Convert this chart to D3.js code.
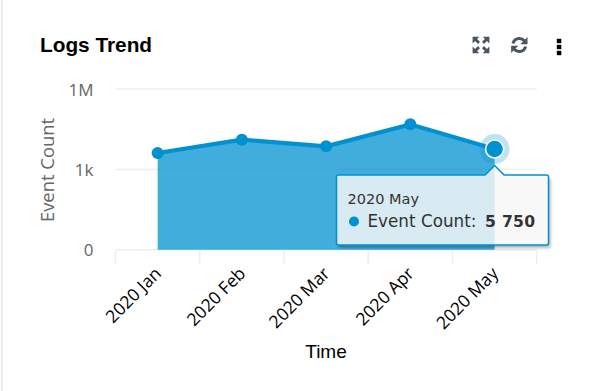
<!DOCTYPE html>
<html><head><meta charset="utf-8">
<script src="https://cdn.jsdelivr.net/npm/d3@7/dist/d3.min.js"></script>
<style>html,body{margin:0;padding:0;background:#fff}svg{display:block}</style>
</head><body><div id="chart"></div>
<script>
const categories = ["2020 Jan","2020 Feb","2020 Mar","2020 Apr","2020 May"];
const eventCounts = [4100, 12900, 7300, 48000, 5750];
const yTicks = [0, 1000, 1000000];
const yTickLabels = ["0","1k","1M"];
const title = "Logs Trend", xTitle = "Time", yTitle = "Event Count";
const tipTitle = "2020 May", tipLabel = "Event Count: ", tipValue = "5 750";

const W = 613, H = 391, BLUE = "#0091d0";
const svg = d3.select("#chart").append("svg").attr("width",W).attr("height",H);
const OS = "'Open Sans',sans-serif", DV = "'DejaVu Sans',sans-serif", LS = "'Liberation Sans',Arial,sans-serif";

svg.append("rect").attr("x",1).attr("y",0).attr("width",1.5).attr("height",H).attr("fill","#e8e8e8");

const x = d3.scaleBand().domain(categories).range([115.5,536.7]);
const y = d3.scaleSymlog().constant(1).domain([0,1e6]).range([249.8,89]);
const cx = d => x(d)+x.bandwidth()/2;

// grid
svg.append("g").selectAll("line").data(yTicks.slice(1)).join("line")
  .attr("x1",116).attr("x2",536.7).attr("y1",d=>y(d)).attr("y2",d=>y(d))
  .attr("stroke","#eeeeee").attr("stroke-width",1.5);

// x axis
const gx = svg.append("g").attr("transform","translate(0,249.8)");
gx.append("line").attr("x1",115.5).attr("x2",536.7).attr("stroke","#eeeeee").attr("stroke-width",1.5);
const edges = categories.map(c=>x(c)).concat([x.range()[1]]);
gx.selectAll("line.t").data(edges).join("line").attr("class","t")
  .attr("x1",d=>d).attr("x2",d=>d).attr("y1",0).attr("y2",14)
  .attr("stroke","#eeeeee").attr("stroke-width",1.5);
gx.selectAll("text.l").data(categories).join("text").attr("class","l")
  .attr("transform",d=>`translate(${cx(d)-4},16) rotate(-45)`)
  .attr("text-anchor","end").attr("dy","0.71em")
  .attr("font-family",OS).attr("font-size",17.5).attr("fill","#000").text(d=>d);

// y labels
svg.append("g").selectAll("text").data(yTicks).join("text")
  .attr("x",93.5).attr("y",d=>y(d)+0.5).attr("dy","0.36em").attr("text-anchor","end")
  .attr("font-family",OS).attr("font-size",17).attr("fill","#666").text((d,i)=>yTickLabels[i]);

// area and line
const area = d3.area().x((d,i)=>cx(categories[i])).y0(y(0)).y1(d=>y(d));
const line = d3.line().x((d,i)=>cx(categories[i])).y(d=>y(d));
svg.append("path").attr("d",area(eventCounts)).attr("fill",BLUE).attr("fill-opacity",0.75);
svg.append("path").attr("d",line(eventCounts)).attr("fill","none").attr("stroke",BLUE).attr("stroke-width",4.2);
svg.append("g").selectAll("circle").data(eventCounts.slice(0,4)).join("circle")
  .attr("cx",(d,i)=>cx(categories[i])).attr("cy",d=>y(d)).attr("r",6).attr("fill",BLUE);

// active point
const last = eventCounts.length-1, lx = cx(categories[last]), ly = y(eventCounts[last]);
svg.append("circle").attr("cx",lx).attr("cy",ly).attr("r",15).attr("fill",BLUE).attr("fill-opacity",0.25);
svg.append("circle").attr("cx",lx).attr("cy",ly).attr("r",9).attr("fill",BLUE).attr("stroke","#fff").attr("stroke-width",1.5);

// tooltip
const tx0=336.5, tx1=548.5, ty0=175, ty1=245, tipW=9.5;
const tipPath = `M${tx0+2},${ty0}H${lx-tipW}L${lx},${ty0-9.5}L${lx+tipW},${ty0}H${tx1-2}Q${tx1},${ty0} ${tx1},${ty0+2}V${ty1-2}Q${tx1},${ty1} ${tx1-2},${ty1}H${tx0+2}Q${tx0},${ty1} ${tx0},${ty1-2}V${ty0+2}Q${tx0},${ty0} ${tx0+2},${ty0}Z`;
const defs = svg.append("defs");
const f = defs.append("filter").attr("id","sh").attr("x","-10%").attr("y","-10%").attr("width","125%").attr("height","130%");
f.append("feGaussianBlur").attr("in","SourceAlpha").attr("stdDeviation",1.5).attr("result","b");
f.append("feOffset").attr("in","b").attr("dx",1.5).attr("dy",2.5).attr("result","o");
f.append("feFlood").attr("flood-color","#000").attr("flood-opacity",0.3).attr("result","c");
f.append("feComposite").attr("in","c").attr("in2","o").attr("operator","in").attr("result","s");
f.append("feComposite").attr("in","s").attr("in2","SourceAlpha").attr("operator","out");
svg.append("path").attr("d",tipPath).attr("fill","#000").attr("filter","url(#sh)");
svg.append("path").attr("d",tipPath).attr("fill","#f7f7f7").attr("fill-opacity",0.83)
  .attr("stroke",BLUE).attr("stroke-width",1.5);
svg.append("text").attr("x",347.5).attr("y",204).attr("font-family",DV).attr("font-size",14.5).attr("fill","#333").text(tipTitle);
svg.append("circle").attr("cx",354).attr("cy",221.5).attr("r",5).attr("fill",BLUE);
const t = svg.append("text").attr("x",367.5).attr("y",226.5).attr("font-family",DV).attr("font-size",16.8).attr("fill","#333");
t.append("tspan").text(tipLabel);
t.append("tspan").attr("font-weight","bold").attr("x",485).attr("font-size",15.6).attr("letter-spacing",0.3).text(tipValue);

// titles
svg.append("text").attr("x",40).attr("y",51.5).attr("font-family",LS).attr("font-weight","bold").attr("font-size",20.8).attr("fill","#000").text(title);
svg.append("text").attr("x",326).attr("y",358).attr("text-anchor","middle").attr("font-family",LS).attr("font-size",19).attr("fill","#000").text(xTitle);
svg.append("text").attr("transform","translate(53.5,170) rotate(-90)").attr("text-anchor","middle")
  .attr("font-family",OS).attr("font-size",18.4).attr("fill","#666").text(yTitle);

// toolbar icons
const ICON = "#4a5560";
const ig = svg.append("g").attr("transform","translate(481,45)");
[[-1,-1],[1,-1],[-1,1],[1,1]].forEach(([sx,sy])=>{
  ig.append("path").attr("transform",`scale(${sx},${sy})`)
    .attr("d","M8.4,8.2H1.8L3.9,6.1L1,3.2L3,1L5.9,4L8.4,1.6Z").attr("fill",ICON);
});
const rg = svg.append("g").attr("transform","translate(519.3,45)");
rg.append("path").attr("d","M-6.3,-1.5A6.5,6.5 0 0 1 5,-4.2").attr("fill","none").attr("stroke",ICON).attr("stroke-width",3);
rg.append("path").attr("d","M8.2,-8V-0.8H1Z").attr("fill",ICON);
rg.append("path").attr("d","M6.3,1.5A6.5,6.5 0 0 1 -5,4.2").attr("fill","none").attr("stroke",ICON).attr("stroke-width",3);
rg.append("path").attr("d","M-8.2,8V0.8H-1Z").attr("fill",ICON);
svg.append("g").selectAll("rect").data([41,47,53]).join("rect")
  .attr("x",556.8).attr("y",d=>d-2.2).attr("width",4.5).attr("height",4.4).attr("fill","#000");
</script></body></html>
